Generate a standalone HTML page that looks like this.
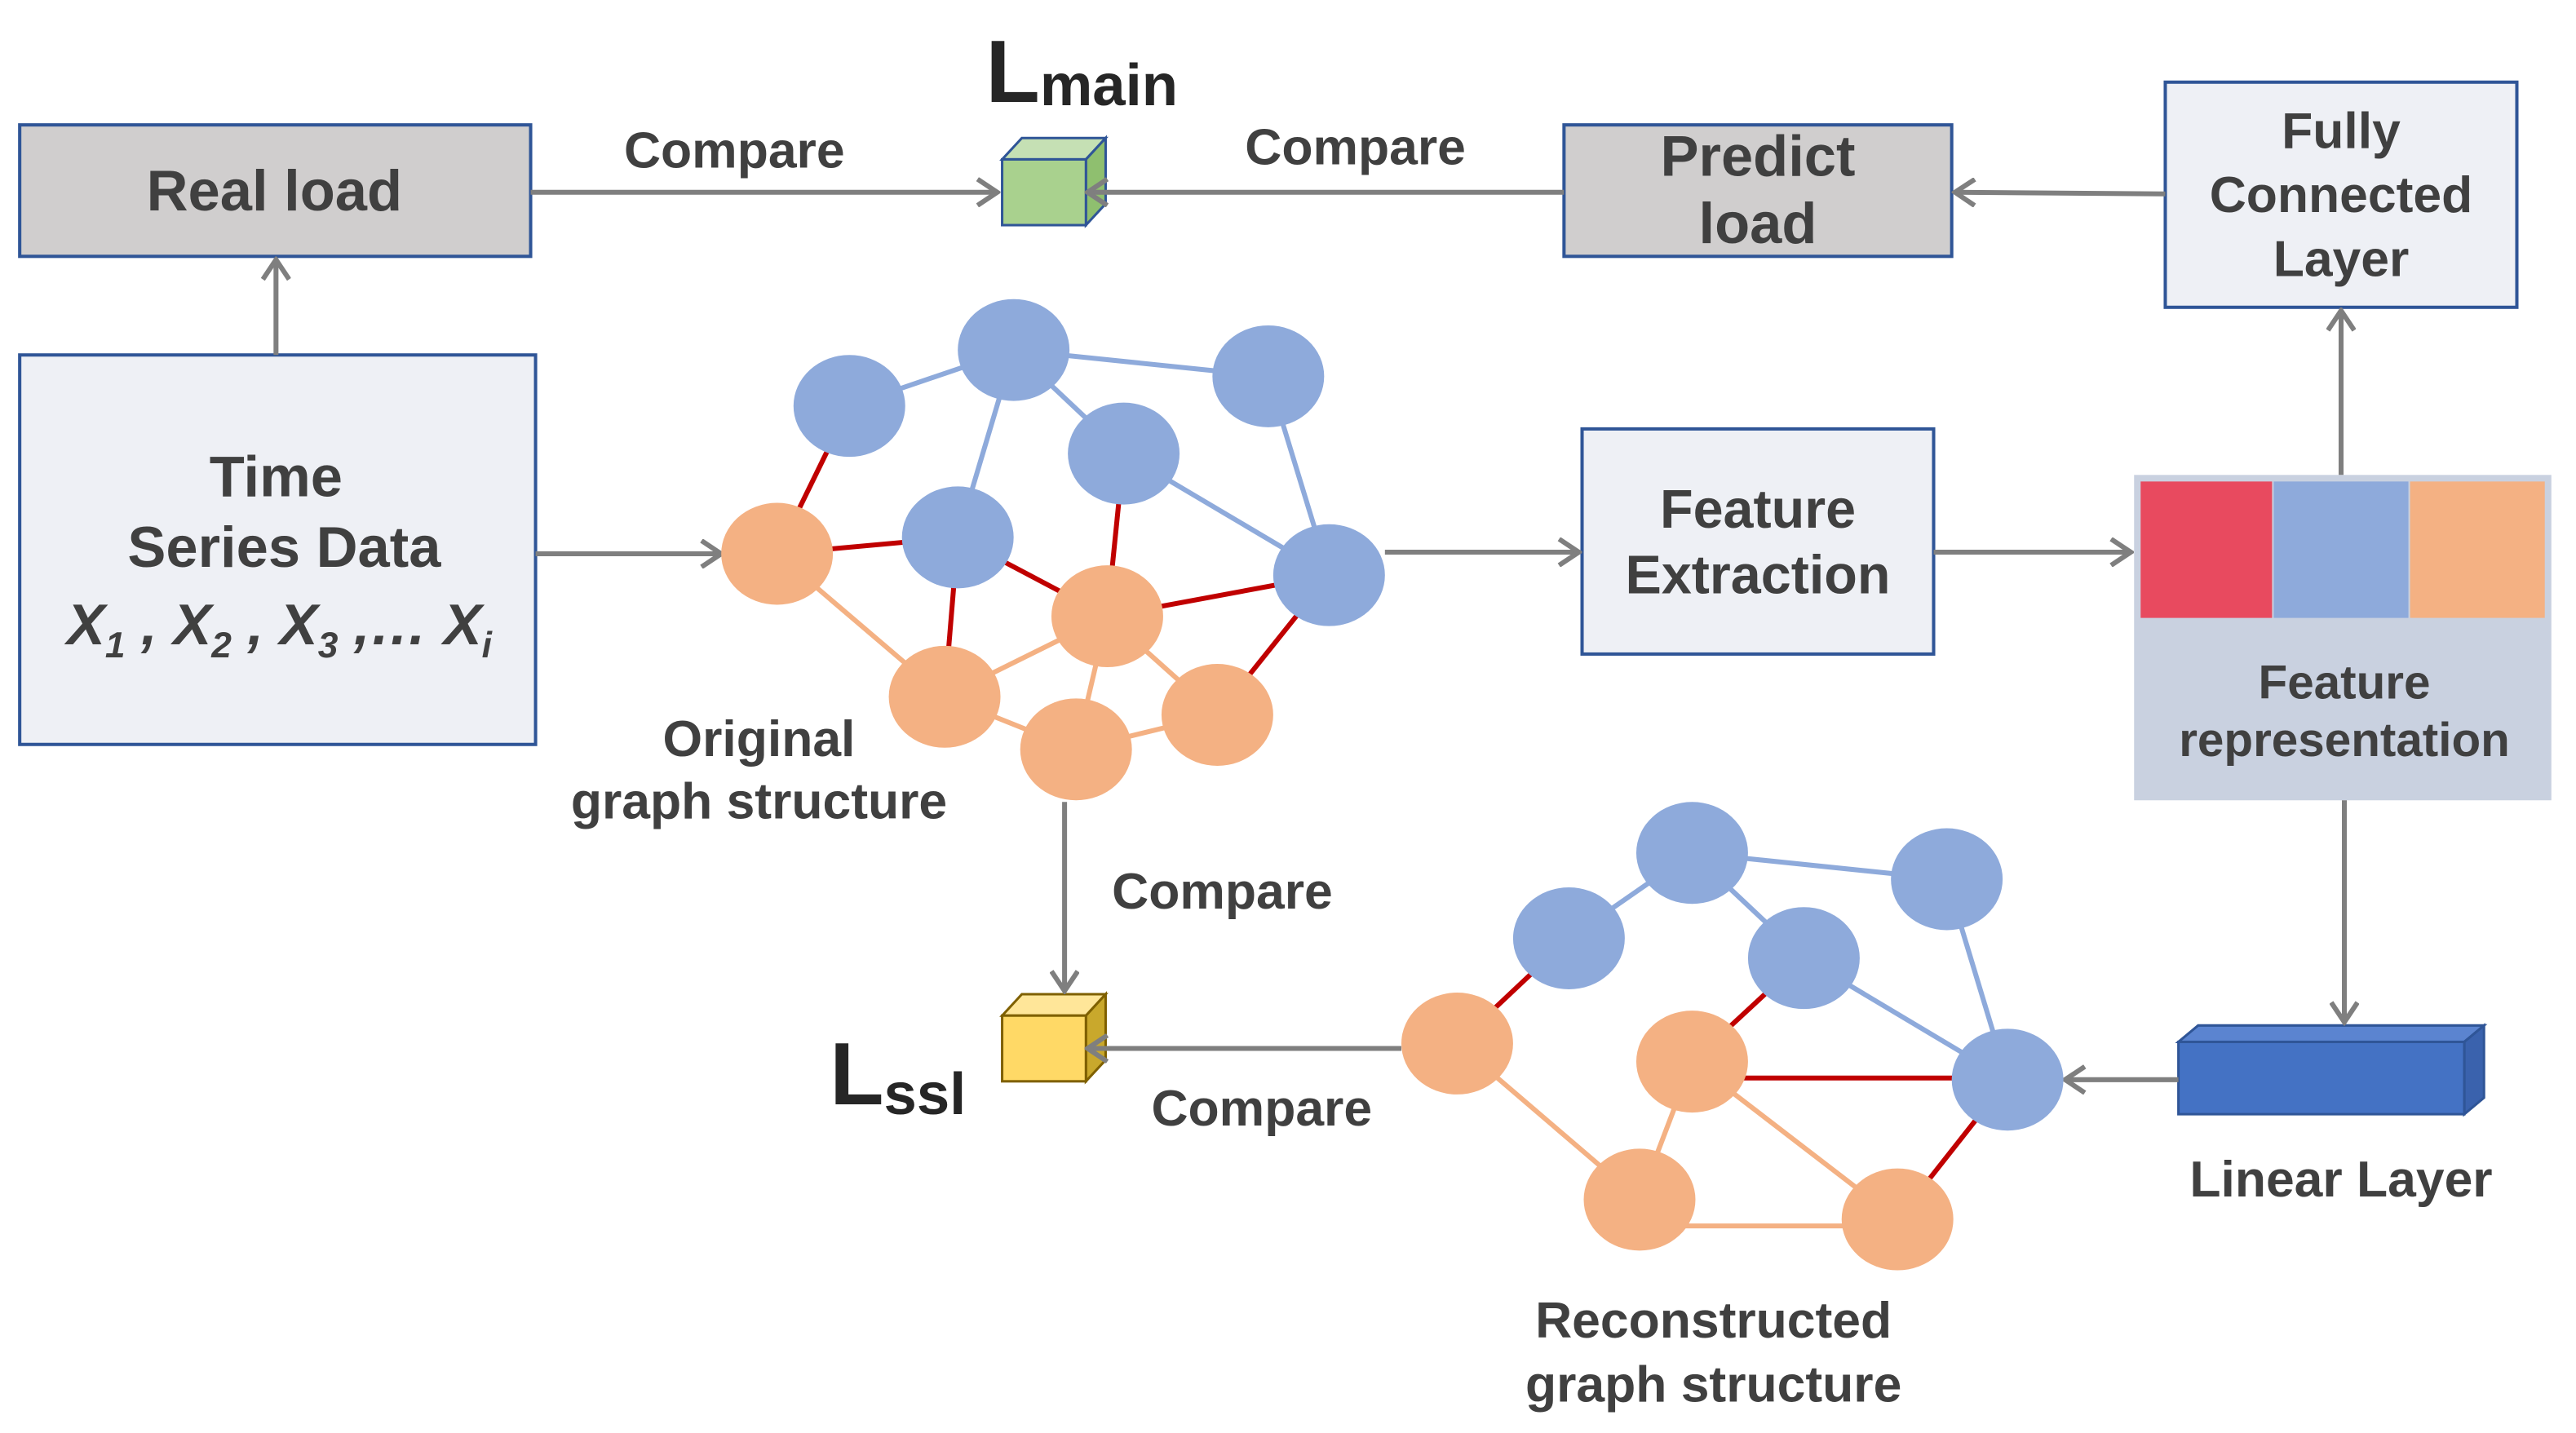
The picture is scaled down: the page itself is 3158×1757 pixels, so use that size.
<!DOCTYPE html>
<html><head><meta charset="utf-8"><style>
html,body{margin:0;padding:0;background:#fff;}
svg{display:block;}
text{font-family:"Liberation Sans",sans-serif;font-weight:bold;fill:#404040;}
</style></head><body>
<svg width="3158" height="1757" viewBox="0 0 1568 872" preserveAspectRatio="none" xmlns="http://www.w3.org/2000/svg">
<defs>
<marker id="a" markerWidth="16" markerHeight="18" refX="14" refY="9" orient="auto" markerUnits="userSpaceOnUse" viewBox="0 0 16 18">
<path d="M2,1 L14,9 L2,17" fill="none" stroke="#7f7f7f" stroke-width="3"/></marker>
</defs>
<!-- boxes -->
<rect x="12" y="76" width="311" height="80" fill="#d0cece" stroke="#2f5597" stroke-width="2"/>
<text x="167" y="128" font-size="35" text-anchor="middle">Real load</text>
<rect x="952" y="76" width="236" height="80" fill="#d0cece" stroke="#2f5597" stroke-width="2"/>
<text x="1070" y="107" font-size="35" text-anchor="middle">Predict</text>
<text x="1070" y="148" font-size="35" text-anchor="middle">load</text>
<rect x="1318" y="50" width="214" height="137" fill="#eef0f5" stroke="#2f5597" stroke-width="2"/>
<text x="1425" y="90" font-size="31" text-anchor="middle">Fully</text>
<text x="1425" y="129" font-size="31" text-anchor="middle">Connected</text>
<text x="1425" y="168" font-size="31" text-anchor="middle">Layer</text>
<rect x="12" y="216" width="314" height="237" fill="#eef0f5" stroke="#2f5597" stroke-width="2"/>
<text x="168" y="302" font-size="35" text-anchor="middle">Time</text>
<text x="173" y="345" font-size="35" text-anchor="middle">Series Data</text>
<text x="170" y="392" font-size="35" text-anchor="middle" font-style="italic">X<tspan font-size="22" dy="8">1</tspan><tspan dy="-8"> , X</tspan><tspan font-size="22" dy="8">2</tspan><tspan dy="-8"> , X</tspan><tspan font-size="22" dy="8">3</tspan><tspan dy="-8"> ,… X</tspan><tspan font-size="22" dy="8">i</tspan></text>
<rect x="963" y="261" width="214" height="137" fill="#eef0f5" stroke="#2f5597" stroke-width="2"/>
<text x="1070" y="321" font-size="33" text-anchor="middle">Feature</text>
<text x="1070" y="361" font-size="33" text-anchor="middle">Extraction</text>
<rect x="1299" y="289" width="254" height="198" fill="#c9d1e0"/>
<rect x="1303" y="293" width="80" height="83" fill="#e84a5f"/>
<rect x="1384" y="293" width="82" height="83" fill="#8eaadb"/>
<rect x="1467" y="293" width="82" height="83" fill="#f4b183"/>
<text x="1427" y="425" font-size="29" text-anchor="middle">Feature</text>
<text x="1427" y="460" font-size="29" text-anchor="middle">representation</text>
<!-- linear layer -->
<polygon points="1326,634 1338,624 1512,624 1500,634" fill="#5b84d0" stroke="#2f5597" stroke-width="1.5"/>
<polygon points="1500,634 1512,624 1512,668 1500,678" fill="#3a62ad" stroke="#2f5597" stroke-width="1.5"/>
<rect x="1326" y="634" width="174" height="44" fill="#4472c4" stroke="#2f5597" stroke-width="1.5"/>
<text x="1425" y="728" font-size="31" text-anchor="middle">Linear Layer</text>
<!-- cubes -->
<polygon points="610,97 622,84 673,84 661,97" fill="#c5e0b4" stroke="#2f5597" stroke-width="1.5"/>
<polygon points="661,97 673,84 673,124 661,137" fill="#8fbf6f" stroke="#2f5597" stroke-width="1.5"/>
<rect x="610" y="97" width="51" height="40" fill="#a9d18e" stroke="#2f5597" stroke-width="1.5"/>
<polygon points="610,618 622,605 673,605 661,618" fill="#ffe699" stroke="#7f6000" stroke-width="1.5"/>
<polygon points="661,618 673,605 673,645 661,658" fill="#c9a82c" stroke="#7f6000" stroke-width="1.5"/>
<rect x="610" y="618" width="51" height="40" fill="#ffd966" stroke="#7f6000" stroke-width="1.5"/>
<text x="600" y="62" font-size="54" style="fill:#262626">L<tspan font-size="36" dy="2">main</tspan></text>
<text x="505" y="672" font-size="54" style="fill:#262626">L<tspan font-size="36" dy="6">ssl</tspan></text>
<text x="447" y="102" font-size="31" text-anchor="middle">Compare</text>
<text x="825" y="100" font-size="31" text-anchor="middle">Compare</text>
<text x="744" y="553" font-size="31" text-anchor="middle">Compare</text>
<text x="768" y="685" font-size="31" text-anchor="middle">Compare</text>
<g stroke="#7f7f7f" stroke-width="3" fill="none" marker-end="url(#a)">
<line x1="323" y1="117" x2="607" y2="117"/>
<line x1="952" y1="117" x2="662" y2="117"/>
<line x1="1318" y1="118" x2="1190" y2="117"/>
<line x1="168" y1="216" x2="168" y2="158"/>
<line x1="326" y1="337" x2="439" y2="337"/>
<line x1="843" y1="336" x2="961" y2="336"/>
<line x1="1177" y1="336" x2="1297" y2="336"/>
<line x1="1425" y1="289" x2="1425" y2="189"/>
<line x1="1427" y1="487" x2="1427" y2="622"/>
<line x1="1326" y1="657" x2="1257" y2="657"/>
<line x1="853" y1="638" x2="662" y2="638"/>
<line x1="648" y1="488" x2="648" y2="603"/>
</g>
<!-- graph 1 -->
<g stroke-width="3">
<g stroke="#8eaadb">
<line x1="517" y1="247" x2="617" y2="213"/><line x1="617" y1="213" x2="772" y2="229"/>
<line x1="617" y1="213" x2="583" y2="327"/><line x1="617" y1="213" x2="684" y2="276"/>
<line x1="684" y1="276" x2="809" y2="350"/><line x1="772" y1="229" x2="809" y2="350"/>
</g>
<g stroke="#c00000">
<line x1="473" y1="337" x2="517" y2="247"/><line x1="473" y1="337" x2="583" y2="327"/>
<line x1="583" y1="327" x2="674" y2="375"/><line x1="674" y1="375" x2="684" y2="276"/>
<line x1="674" y1="375" x2="809" y2="350"/><line x1="741" y1="435" x2="809" y2="350"/>
<line x1="583" y1="327" x2="575" y2="424"/>
</g>
<g stroke="#f4b183">
<line x1="473" y1="337" x2="575" y2="424"/><line x1="575" y1="424" x2="674" y2="375"/>
<line x1="674" y1="375" x2="741" y2="435"/><line x1="655" y1="456" x2="674" y2="375"/>
<line x1="575" y1="424" x2="655" y2="456"/><line x1="655" y1="456" x2="741" y2="435"/>
</g>
</g>
<g fill="#8eaadb">
<ellipse cx="517" cy="247" rx="34" ry="31"/><ellipse cx="617" cy="213" rx="34" ry="31"/>
<ellipse cx="772" cy="229" rx="34" ry="31"/><ellipse cx="684" cy="276" rx="34" ry="31"/>
<ellipse cx="583" cy="327" rx="34" ry="31"/><ellipse cx="809" cy="350" rx="34" ry="31"/>
</g>
<g fill="#f4b183">
<ellipse cx="473" cy="337" rx="34" ry="31"/><ellipse cx="674" cy="375" rx="34" ry="31"/>
<ellipse cx="575" cy="424" rx="34" ry="31"/><ellipse cx="655" cy="456" rx="34" ry="31"/>
<ellipse cx="741" cy="435" rx="34" ry="31"/>
</g>
<text x="462" y="460" font-size="31" text-anchor="middle">Original</text>
<text x="462" y="498" font-size="31" text-anchor="middle">graph structure</text>
<!-- graph 2 -->
<g stroke-width="3">
<g stroke="#8eaadb">
<line x1="955" y1="571" x2="1030" y2="519"/><line x1="1030" y1="519" x2="1185" y2="535"/>
<line x1="1030" y1="519" x2="1098" y2="583"/><line x1="1098" y1="583" x2="1222" y2="657"/>
<line x1="1185" y1="535" x2="1222" y2="657"/>
</g>
<g stroke="#c00000">
<line x1="887" y1="635" x2="955" y2="571"/><line x1="1030" y1="646" x2="1098" y2="583"/>
<line x1="1030" y1="656" x2="1222" y2="656"/><line x1="1155" y1="742" x2="1222" y2="657"/>
</g>
<g stroke="#f4b183">
<line x1="887" y1="635" x2="998" y2="730"/><line x1="998" y1="730" x2="1030" y2="646"/>
<line x1="1030" y1="646" x2="1155" y2="742"/><line x1="998" y1="746" x2="1155" y2="746"/>
</g>
</g>
<g fill="#8eaadb">
<ellipse cx="955" cy="571" rx="34" ry="31"/><ellipse cx="1030" cy="519" rx="34" ry="31"/>
<ellipse cx="1185" cy="535" rx="34" ry="31"/><ellipse cx="1098" cy="583" rx="34" ry="31"/>
<ellipse cx="1222" cy="657" rx="34" ry="31"/>
</g>
<g fill="#f4b183">
<ellipse cx="887" cy="635" rx="34" ry="31"/><ellipse cx="1030" cy="646" rx="34" ry="31"/>
<ellipse cx="998" cy="730" rx="34" ry="31"/><ellipse cx="1155" cy="742" rx="34" ry="31"/>
</g>
<text x="1043" y="814" font-size="31" text-anchor="middle">Reconstructed</text>
<text x="1043" y="853" font-size="31" text-anchor="middle">graph structure</text>
</svg>
</body></html>
